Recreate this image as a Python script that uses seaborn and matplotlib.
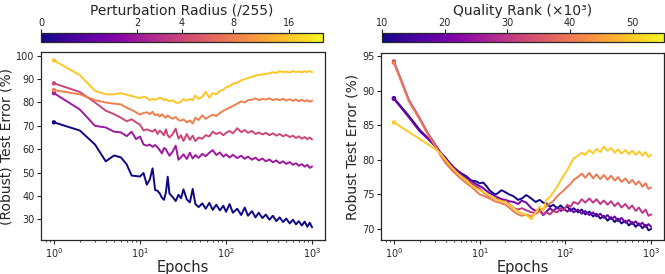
import numpy as np
import matplotlib
matplotlib.use("Agg")
import matplotlib.pyplot as plt
import matplotlib.colors as mcolors
import seaborn as sns

# ---- left panel: robust test error vs epochs for each perturbation radius ----
radii = [0, 2, 4, 8, 16]
radius_ticks = [0, 2, 4, 8, 16]

epochs_left = [1, 2, 3, 4, 5, 6, 7, 8, 9, 10, 11, 12, 13, 14, 15, 16, 17, 18, 19, 20, 21, 22,
               24, 26, 28, 30, 32, 35, 38, 41, 44, 48,
               53, 58, 64, 70, 77, 85, 93,
               100, 110, 120, 135, 150, 165, 180,
               200, 220, 240, 265, 290,
               320, 350, 385, 420, 460,
               500, 550, 600, 650, 700, 760, 820, 880, 940, 1000]

err_eps0 = [71.5, 68, 62, 54.8, 57.3, 56.5, 53.5, 48.7, 48.5, 48.3, 49.8, 44.8, 47, 51.8, 42.5, 42.2, 41, 39.2, 38.3, 41.5, 48.2, 41,
            39.5, 37.8, 40.5, 39, 42.8, 38.5, 37.2, 43, 36.5, 35.2,
            36.8, 34.5, 37, 34, 36.2, 33.8, 35.8,
            33.2, 36.5, 32.8, 34.5, 31.8, 35, 31.5,
            33.5, 30.8, 32.8, 30.5, 32,
            29.8, 31.5, 29.2, 30.8, 28.8,
            30.3, 28.2, 29.8, 27.8, 29.2, 27.3, 29, 26.8, 28.5, 26.5]
err_eps2 = [84, 77, 70, 69.3, 67.5, 67.2, 65.6, 67.5, 64.3, 65.4, 62, 61.5, 62, 61, 61.8, 60.8, 59.5, 58.2, 60.5, 60, 58.5, 57.2,
            59, 61.5, 55.5, 56.5, 57.8, 55.8, 58.5, 56, 57.5, 56.3,
            58, 57, 58.5, 59.6, 57.5, 58.6, 56.8,
            57.8, 56.4, 57.6, 56.2, 57.2, 55.9, 56.8,
            55.5, 56.4, 55.2, 56, 54.8,
            55.6, 54.4, 55.2, 54, 54.8,
            53.7, 54.5, 53.3, 54, 52.9, 53.6, 52.5, 53.3, 52, 52.6]
err_eps4 = [88.2, 84.5, 80, 76.5, 75, 73.5, 72, 72.8, 71.5, 70.5, 68, 68.5, 68, 67.5, 68.5, 66.5, 68, 67, 66, 68.5, 66, 65,
            66.5, 68.8, 64.5, 66, 63.5, 66.5, 64, 65.8, 63.5, 65,
            64.5, 66, 65.5, 67.5, 66.5, 67.2, 66,
            67, 67.8, 66.8, 69, 67.3, 68.2, 67,
            67.8, 66.5, 67.2, 66.3, 67,
            66, 66.8, 65.8, 66.5, 65.5,
            66.2, 65.2, 65.8, 64.8, 65.5, 64.5, 65.2, 64.3, 65, 64.2]
err_eps8 = [85.3, 83.5, 81, 80, 79.5, 79.2, 77.8, 76.8, 75.8, 74.8, 75.5, 75.8, 75, 76, 74.5, 75, 74, 75, 74, 73.5, 74.5, 73.8,
            73, 73.8, 72.5, 72.2, 72.8, 71.5, 72.3, 71, 73.5, 72.5,
            74.5, 73, 74, 74.8, 74.2, 75.5, 76.5,
            77, 77.8, 78.5, 79.5, 80.5, 80, 81,
            81.2, 81.8, 81, 81.5, 81.3,
            81.8, 81, 81.5, 81, 81.6,
            80.8, 81.4, 80.7, 81.3, 80.5, 81.2, 80.5, 81, 80.3, 80.8]
err_eps16 = [98, 91.7, 85, 83.5, 83.5, 84, 83.3, 82.8, 82.3, 81.8, 82.5, 82, 81, 81.5, 81.2, 81.5, 82, 81.8, 81, 81.5, 80.8, 80.5,
             81, 80, 79.8, 80.5, 81.5, 80.8, 81.5, 81, 83, 81.5,
             82.5, 84.5, 82, 84, 83.5, 85, 85.5,
             86.5, 87, 88, 88.5, 89.5, 90, 90.5,
             91, 91.5, 91.8, 92, 92.3,
             92.5, 93, 92.6, 93.5, 93,
             93.2, 92.8, 93.5, 93, 93.3, 92.9, 93.4, 93, 93.5, 93]
left_series = [err_eps0, err_eps2, err_eps4, err_eps8, err_eps16]

# ---- right panel: robust test error vs epochs for each quality rank (x10^3) ----
ranks = [10, 20, 30, 40, 50]
rank_ticks = [10, 20, 30, 40, 50]

epochs_right = [1, 1.5, 2, 2.5, 3, 3.5, 4, 4.5, 5,
                6, 7, 8, 9, 10, 11, 12, 13, 14, 15, 16,
                18, 20, 22, 25, 28, 31, 35,
                40, 45, 50, 55, 60, 66, 72,
                80, 88, 96, 105, 115, 125,
                140, 155, 170, 190, 210, 230,
                255, 280, 310, 340, 375, 410, 450,
                500, 550, 600, 660, 720, 790, 860, 930, 1000]

err_r10 = [88.9, 86.3, 84.3, 83.1, 82.2, 81.0, 80.3, 79.4, 78.8,
           78.1, 77.6, 77.0, 76.9, 76.6, 76.7, 76.2, 75.6, 75.3, 75.0, 75.1,
           75.6, 75.3, 75.0, 74.7, 74.2, 74.4, 74.9,
           74.4, 73.9, 74.2, 73.8, 73.7, 73.2, 73.5,
           73.0, 73.4, 72.9, 73.3, 72.6, 73.0,
           72.4, 72.8, 72.1, 72.5, 71.8, 72.2,
           71.5, 71.9, 71.2, 71.7, 71.0, 71.5, 70.8,
           71.2, 70.5, 71.0, 70.3, 70.8, 70.1, 70.6, 69.8, 70.0]
err_r20 = [88.8, 86.1, 84.1, 83.0, 82.0, 81.0, 80.2, 79.5, 78.9,
           78.0, 77.4, 76.9, 76.5, 76.2, 75.9, 75.5, 75.2, 75.0, 74.8, 74.6,
           74.3, 74.2, 74.0, 73.9, 73.6, 74.1, 73.8,
           73.0, 72.6, 72.9, 72.0, 72.5, 73.0, 72.6,
           73.1, 72.6, 72.9, 72.5, 72.9, 72.4,
           72.8, 72.2, 72.6, 72.0, 72.4, 71.8,
           72.2, 71.6, 72.0, 71.4, 71.8, 71.1, 71.6,
           70.9, 71.3, 70.7, 71.1, 70.5, 70.9, 70.3, 70.7, 70.3]
err_r30 = [94.2, 88.6, 86.0, 83.8, 82.3, 80.9, 79.8, 79.1, 78.4,
           77.6, 77.0, 76.6, 76.2, 75.8, 75.3, 75.0, 74.7, 74.6, 74.4, 74.3,
           74.0, 74.1, 73.6, 73.0, 72.8, 73.0, 72.7,
           72.4, 72.3, 72.6, 72.0, 72.4, 72.1, 72.6,
           72.4, 73.0, 72.7, 73.5, 73.2, 73.9,
           73.6, 74.3, 73.8, 74.4, 73.8, 74.3,
           73.6, 74.1, 73.5, 74.0, 73.3, 73.8, 73.1,
           73.6, 72.9, 73.4, 72.6, 73.1, 72.3, 72.8, 71.9, 72.1]
err_r40 = [94.0, 88.4, 85.8, 83.6, 82.1, 80.6, 79.5, 78.8, 78.2,
           77.3, 76.6, 76.1, 75.5, 75.0, 74.8, 74.6, 74.4, 74.2, 74.0, 73.9,
           73.7, 73.5, 73.1, 72.5, 72.1, 71.9, 72.1,
           71.8, 72.2, 72.6, 72.9, 73.3, 73.7, 74.0,
           74.7, 75.2, 75.6, 76.1, 76.5, 77.1,
           77.5, 78.0, 77.4, 78.1, 77.3, 77.9,
           77.2, 77.8, 77.1, 77.7, 77.0, 77.5, 76.8,
           77.3, 76.6, 77.1, 76.4, 76.9, 76.1, 76.6, 75.8, 76.0]
err_r50 = [85.4, 84.0, 83.0, 82.2, 81.6, 80.9, 80.0, 79.2, 78.6,
           77.6, 77.0, 76.3, 75.9, 75.6, 75.3, 75.1, 74.8, 74.6, 74.4, 74.2,
           74.0, 73.9, 73.5, 73.0, 72.5, 72.3, 72.0,
           71.4, 72.4, 73.2, 72.6, 74.2, 74.6, 75.3,
           76.1, 77.0, 77.8, 78.5, 79.4, 80.2,
           80.6, 81.0, 80.7, 81.4, 80.9, 81.6,
           81.1, 81.9, 81.3, 81.7, 81.0, 81.5, 80.9,
           81.4, 80.8, 81.3, 80.7, 81.2, 80.6, 81.1, 80.4, 80.7]
right_series = [err_r10, err_r20, err_r30, err_r40, err_r50]

sns.set_style("ticks")
plt.rcParams['font.family'] = ['DejaVu Sans']
plt.rcParams['xtick.direction'] = 'out'
plt.rcParams['ytick.direction'] = 'out'

cmap = plt.get_cmap('plasma')
norm_left = mcolors.FuncNorm((np.log1p, np.expm1), vmin=0, vmax=24)
norm_right = mcolors.Normalize(vmin=10, vmax=55)

fig = plt.figure(figsize=(6.65, 2.74), dpi=100)
ax_l = fig.add_axes([0.0617, 0.124, 0.427, 0.686])
ax_r = fig.add_axes([0.573, 0.124, 0.4256, 0.682])
cax_l = fig.add_axes([0.0617, 0.847, 0.424, 0.033])
cax_r = fig.add_axes([0.5744, 0.847, 0.424, 0.033])


def draw_panel(ax, epochs, series, levels, norm):
    for vals, lev in zip(series, levels):
        c = cmap(norm(lev))
        sns.lineplot(x=epochs, y=vals, color=c, linewidth=1.4, ax=ax)
        sns.scatterplot(x=[epochs[0]], y=[vals[0]], color=c, s=10,
                        edgecolor='none', ax=ax, zorder=3)
    ax.set_xscale('log')
    ax.set_xlabel('Epochs', fontsize=10.5, labelpad=0)
    ax.tick_params(axis='both', labelsize=7, length=3, width=0.8, pad=1.5)
    ax.tick_params(axis='x', which='minor', length=1.5, width=0.6)
    for sp in ax.spines.values():
        sp.set_linewidth(0.9)


draw_panel(ax_l, epochs_left, left_series, radii, norm_left)
ax_l.set_ylim(21.1, 101.6)
ax_l.set_yticks([30, 40, 50, 60, 70, 80, 90, 100])
ax_l.set_ylabel('(Robust) Test Error (%)', fontsize=10, labelpad=2)

draw_panel(ax_r, epochs_right, right_series, ranks, norm_right)
ax_r.set_ylim(68.4, 95.4)
ax_r.set_yticks([70, 75, 80, 85, 90, 95])
ax_r.set_ylabel('Robust Test Error (%)', fontsize=10, labelpad=2)


def draw_cbar(cax, norm, ticks, label):
    sm = plt.cm.ScalarMappable(norm=norm, cmap=cmap)
    sm.set_array([])
    cb = fig.colorbar(sm, cax=cax, orientation='horizontal')
    cb.set_ticks(ticks)
    cb.set_ticklabels([str(t) for t in ticks])
    cax.xaxis.set_ticks_position('top')
    cax.xaxis.set_label_position('top')
    cax.tick_params(labelsize=7, length=3, width=0.8, pad=0.8)
    cax.minorticks_off()
    cb.outline.set_linewidth(0.9)
    cb.set_label(label, fontsize=10, labelpad=2)


draw_cbar(cax_l, norm_left, radius_ticks, 'Perturbation Radius (/255)')
draw_cbar(cax_r, norm_right, rank_ticks, 'Quality Rank (×10³)')

fig.savefig('out.png', dpi=100)
